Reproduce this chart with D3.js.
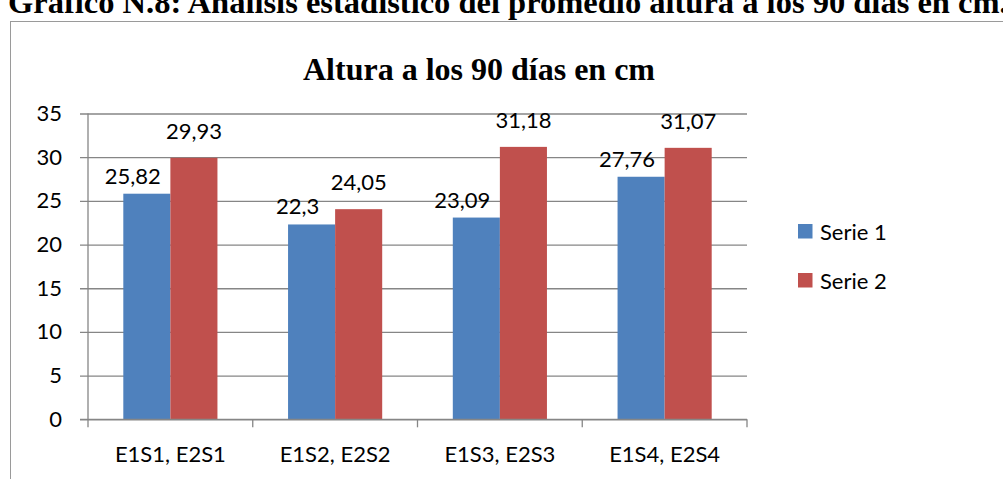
<!DOCTYPE html>
<html>
<head>
<meta charset="utf-8">
<script src="https://cdn.jsdelivr.net/npm/d3@7"></script>
<style>
  html, body { margin: 0; padding: 0; background: #fff; }
  svg { display: block; }
</style>
</head>
<body>
<svg id="chart" width="1003" height="479"></svg>
<script>
// Data
const categories = ["E1S1, E2S1", "E1S2, E2S2", "E1S3, E2S3", "E1S4, E2S4"];
const seriesNames = ["Serie 1", "Serie 2"];
const serie1 = [25.82, 22.3, 23.09, 27.76];
const serie2 = [29.93, 24.05, 31.18, 31.07];
const yTicks = [0, 5, 10, 15, 20, 25, 30, 35];
const colors = ["#4F81BD", "#C0504D"];

const fmt = v => String(v).replace(".", ",");
const sans = "Lato, 'Open Sans', sans-serif";
const serif = "'Liberation Serif', 'Times New Roman', serif";

const svg = d3.select("#chart");

// Document caption above the chart box
svg.append("text")
  .attr("x", 8).attr("y", 13)
  .attr("font-family", serif).attr("font-weight", "bold").attr("font-size", 32.5)
  .attr("fill", "#000")
  .text("Gráfico N.8: Análisis estadístico del promedio altura a los 90 días en cm.");

// Chart frame (continues past the page edges)
svg.append("rect")
  .attr("x", 10.5).attr("y", 21.5)
  .attr("width", 1100).attr("height", 600)
  .attr("fill", "#fff").attr("stroke", "#9a9a9a").attr("stroke-width", 1);

// Chart title
svg.append("text")
  .attr("x", 479).attr("y", 80)
  .attr("text-anchor", "middle")
  .attr("font-family", serif).attr("font-weight", "bold").attr("font-size", 32)
  .text("Altura a los 90 días en cm");

// Scales
const plotLeft = 88, plotRight = 747;
const y = d3.scaleLinear().domain([0, 35]).range([419.3, 113.5]);
const x0 = d3.scaleBand().domain(categories).range([plotLeft, plotRight]);
const x1 = d3.scaleBand().domain(seriesNames)
  .range([0, x0.bandwidth()]).paddingInner(0).paddingOuter(0.75);

const axisColor = "#868686";

// Y axis with gridlines across the plot
const yAxis = svg.append("g")
  .attr("transform", `translate(${plotLeft},0)`)
  .call(d3.axisLeft(y).tickValues(yTicks).tickSizeOuter(0)
    .tickSizeInner(-(plotRight - plotLeft)).tickPadding(26));
yAxis.select(".domain").remove();
yAxis.selectAll(".tick line")
  .attr("x1", -8)
  .attr("stroke", axisColor).attr("stroke-width", 1.3);
yAxis.selectAll(".tick text")
  .attr("font-family", sans).attr("font-size", 22).attr("fill", "#000");

// Y axis line
svg.append("line")
  .attr("x1", plotLeft).attr("x2", plotLeft)
  .attr("y1", y(35)).attr("y2", y(0))
  .attr("stroke", axisColor).attr("stroke-width", 1.3);

// Bars
const rows = categories.map((c, i) => ({ cat: c, values: [serie1[i], serie2[i]] }));
const groups = svg.append("g").selectAll("g")
  .data(rows).join("g")
  .attr("transform", d => `translate(${x0(d.cat)},0)`);

groups.selectAll("rect")
  .data(d => d.values.map((v, j) => ({ name: seriesNames[j], value: v, j })))
  .join("rect")
  .attr("x", d => x1(d.name))
  .attr("width", x1.bandwidth())
  .attr("y", d => y(d.value))
  .attr("height", d => y(0) - y(d.value))
  .attr("fill", d => colors[d.j]);

// Value labels
groups.selectAll("text.val")
  .data(d => d.values.map((v, j) => ({ name: seriesNames[j], value: v, j })))
  .join("text")
  .attr("class", "val")
  .attr("x", d => x1(d.name) + x1.bandwidth() / 2 + (d.j === 0 ? -14 : 0))
  .attr("y", d => y(d.value) - (d.j === 0 ? 10 : 19))
  .attr("text-anchor", "middle")
  .attr("font-family", sans).attr("font-size", 22).attr("fill", "#000")
  .text(d => fmt(d.value));

// X axis line and boundary ticks
svg.append("line")
  .attr("x1", 80).attr("x2", plotRight)
  .attr("y1", y(0)).attr("y2", y(0))
  .attr("stroke", axisColor).attr("stroke-width", 1.3);
const bounds = categories.map(c => x0(c)).concat([plotRight]);
svg.append("g").selectAll("line")
  .data(bounds).join("line")
  .attr("x1", d => d).attr("x2", d => d)
  .attr("y1", y(0)).attr("y2", y(0) + 8)
  .attr("stroke", axisColor).attr("stroke-width", 1.3);

// Category labels
svg.append("g").selectAll("text")
  .data(categories).join("text")
  .attr("x", d => x0(d) + x0.bandwidth() / 2)
  .attr("y", 462)
  .attr("text-anchor", "middle")
  .attr("font-family", sans).attr("font-size", 22).attr("fill", "#000")
  .text(d => d);

// Legend
const legend = svg.append("g").selectAll("g")
  .data(seriesNames).join("g")
  .attr("transform", (d, i) => `translate(798,${224 + i * 49})`);
legend.append("rect")
  .attr("width", 14.5).attr("height", 14.5)
  .attr("fill", (d, i) => colors[i]);
legend.append("text")
  .attr("x", 22).attr("y", 15.5)
  .attr("font-family", sans).attr("font-size", 22).attr("fill", "#000")
  .text(d => d);
</script>
</body>
</html>
